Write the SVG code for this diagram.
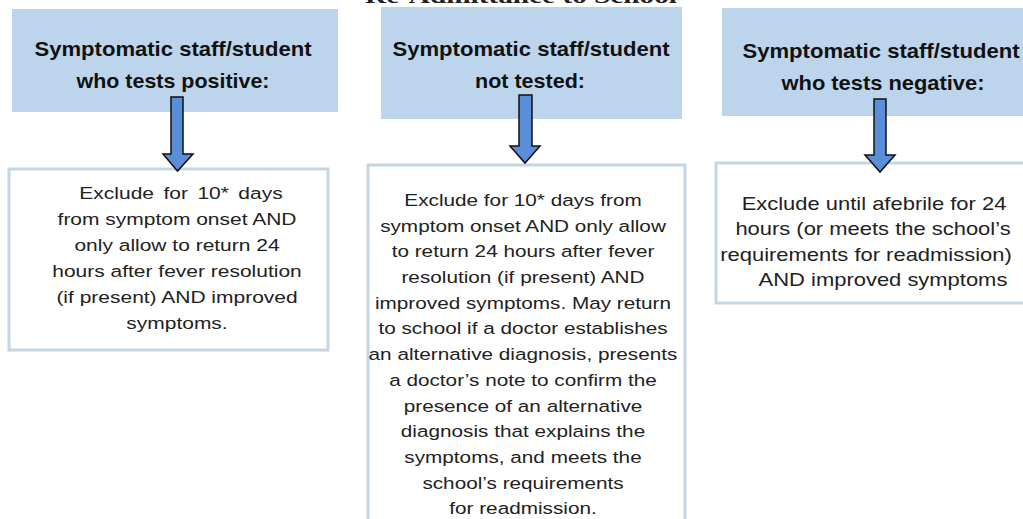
<svg xmlns="http://www.w3.org/2000/svg" width="1023" height="519" viewBox="0 0 1023 519">
<style>
.hdr{fill:#bdd5ec;stroke:none}
.box{fill:#ffffff;stroke:#c6d5e4;stroke-width:3}
.ht{font-family:"Liberation Sans",Arial,sans-serif;font-weight:bold;font-size:21px;fill:#111111;text-anchor:middle}
.bt{font-family:"Liberation Sans",Arial,sans-serif;fill:#222222;text-anchor:middle}
.arrow{fill:#5b8ed8;stroke:#111111;stroke-width:1.5;stroke-linejoin:miter}
.title{font-family:"Liberation Serif","Times New Roman",serif;font-weight:bold;font-size:20px;fill:#222222;text-anchor:middle}
</style>
<rect width="1023" height="519" fill="#ffffff"/>
<text class="title" x="521" y="2.5" textLength="312" lengthAdjust="spacingAndGlyphs">Re-Admittance to School</text>

<g id="header-positive">
<rect class="hdr" x="12" y="9" width="326" height="103"/>
<text class="ht" x="173" y="56" textLength="277" lengthAdjust="spacingAndGlyphs">Symptomatic staff/student</text>
<text class="ht" x="173" y="88" textLength="193" lengthAdjust="spacingAndGlyphs">who tests positive:</text>
</g>
<g id="header-nottested">
<rect class="hdr" x="381" y="7" width="301" height="112"/>
<text class="ht" x="531" y="56" textLength="277" lengthAdjust="spacingAndGlyphs">Symptomatic staff/student</text>
<text class="ht" x="530" y="88" textLength="110" lengthAdjust="spacingAndGlyphs">not tested:</text>
</g>
<g id="header-negative">
<rect class="hdr" x="722" y="8" width="305" height="108"/>
<text class="ht" x="881" y="58" textLength="277" lengthAdjust="spacingAndGlyphs">Symptomatic staff/student</text>
<text class="ht" x="883" y="90" textLength="203" lengthAdjust="spacingAndGlyphs">who tests negative:</text>
</g>

<g id="box-positive">
<rect class="box" x="9" y="169" width="319" height="181"/>
<g class="bt" font-size="17.2">
<text transform="translate(181,0) scale(1.22,1)" y="199" word-spacing="3">Exclude for 10* days</text>
<text transform="translate(177,0) scale(1.22,1)" y="225">from symptom onset AND</text>
<text transform="translate(177,0) scale(1.22,1)" y="251">only allow to return 24</text>
<text transform="translate(177,0) scale(1.22,1)" y="277">hours after fever resolution</text>
<text transform="translate(177,0) scale(1.22,1)" y="303">(if present) AND improved</text>
<text transform="translate(177,0) scale(1.22,1)" y="329">symptoms.</text>
</g>
</g>

<g id="box-nottested">
<rect class="box" x="368" y="165" width="317" height="370"/>
<g class="bt" font-size="17">
<text transform="translate(523,0) scale(1.22,1)" y="206">Exclude for 10* days from</text>
<text transform="translate(523,0) scale(1.22,1)" y="231.7">symptom onset AND only allow</text>
<text transform="translate(523,0) scale(1.22,1)" y="257.4">to return 24 hours after fever</text>
<text transform="translate(523,0) scale(1.22,1)" y="283.1">resolution (if present) AND</text>
<text transform="translate(523,0) scale(1.22,1)" y="308.8">improved symptoms. May return</text>
<text transform="translate(523,0) scale(1.22,1)" y="334.5">to school if a doctor establishes</text>
<text transform="translate(523,0) scale(1.22,1)" y="360.2">an alternative diagnosis, presents</text>
<text transform="translate(523,0) scale(1.22,1)" y="385.9">a doctor’s note to confirm the</text>
<text transform="translate(523,0) scale(1.22,1)" y="411.6">presence of an alternative</text>
<text transform="translate(523,0) scale(1.22,1)" y="437.3">diagnosis that explains the</text>
<text transform="translate(523,0) scale(1.22,1)" y="463">symptoms, and meets the</text>
<text transform="translate(523,0) scale(1.22,1)" y="488.7">school’s requirements</text>
<text transform="translate(523,0) scale(1.22,1)" y="514.4">for readmission.</text>
</g>
</g>

<g id="box-negative">
<rect class="box" x="716" y="163" width="320" height="140"/>
<g class="bt" font-size="18">
<text transform="translate(874,0) scale(1.22,1)" y="210">Exclude until afebrile for 24</text>
<text transform="translate(873,0) scale(1.22,1)" y="235">hours (or meets the school’s</text>
<text transform="translate(866,0) scale(1.22,1)" y="261">requirements for readmission)</text>
<text transform="translate(883,0) scale(1.22,1)" y="286">AND improved symptoms</text>
</g>
</g>

<g id="connectors">
<path class="arrow" d="M171,97 H183 V154 H193 L177.5,171 L163,154 H171 Z"/>
<path class="arrow" d="M519,95 H532 V146 H540 L525,163 L510,146 H519 Z"/>
<path class="arrow" d="M874,99 H886 V155 H895 L880,172 L865,155 H874 Z"/>
</g>
</svg>
